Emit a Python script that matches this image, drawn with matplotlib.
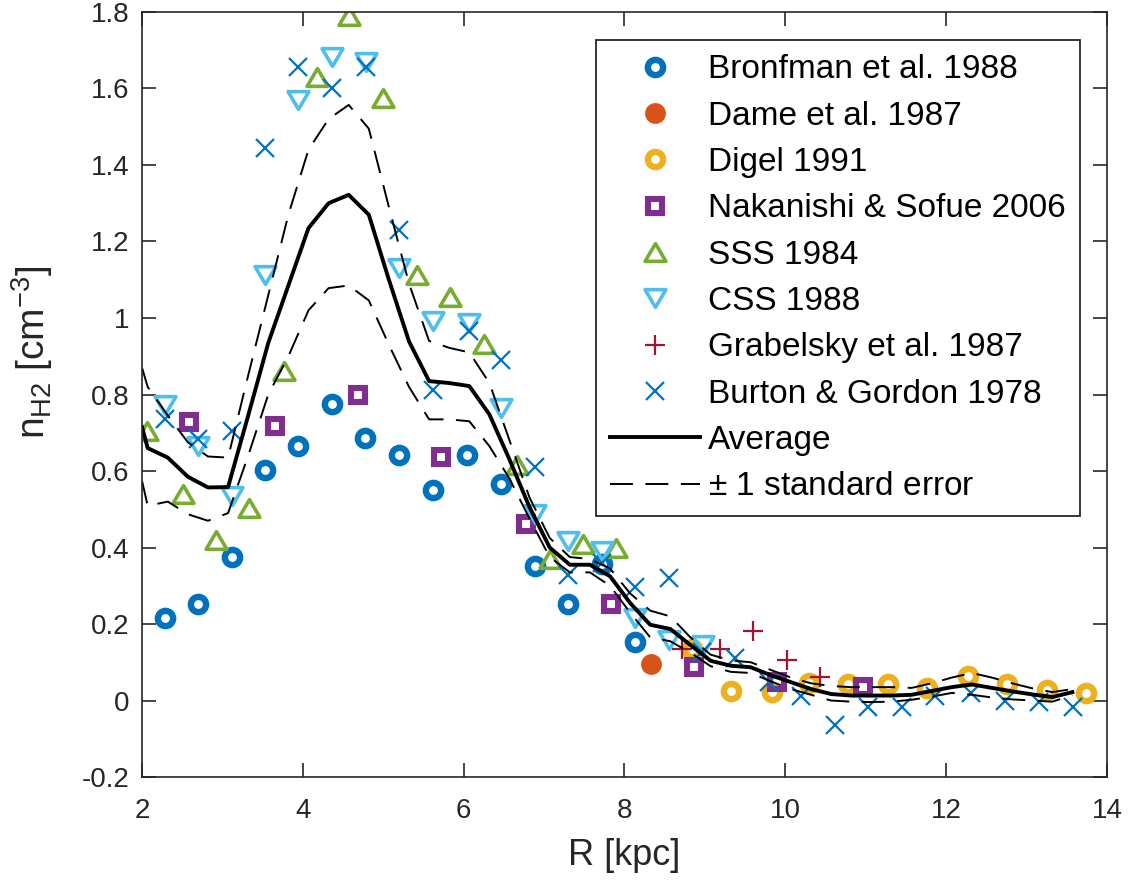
import matplotlib
matplotlib.use("Agg")
import matplotlib.pyplot as plt
from matplotlib.path import Path
import numpy as np

plt.rcParams['font.family'] = ['Liberation Sans', 'DejaVu Sans']
plt.rcParams['mathtext.fontset'] = 'custom'
plt.rcParams['mathtext.rm'] = 'Liberation Sans'
plt.rcParams['mathtext.it'] = 'Liberation Sans:italic'

# ---------------- data ----------------
bronfman_R = [2.29, 2.70, 3.12, 3.53, 3.94, 4.36, 4.77, 5.19, 5.62, 6.04, 6.47, 6.89, 7.30, 7.72, 8.13]
bronfman_n = [0.216, 0.252, 0.374, 0.602, 0.665, 0.776, 0.687, 0.642, 0.550, 0.642, 0.565, 0.352, 0.252, 0.357, 0.152]

dame_R = [8.33]
dame_n = [0.096]

digel_R = [8.84, 9.33, 9.83, 10.29, 10.78, 11.28, 11.76, 12.27, 12.76, 13.26, 13.74]
digel_n = [0.135, 0.026, 0.021, 0.045, 0.042, 0.043, 0.033, 0.063, 0.043, 0.028, 0.019]

nakanishi_R = [2.59, 3.65, 4.69, 5.72, 6.78, 7.83, 8.86, 9.90, 10.96]
nakanishi_n = [0.729, 0.717, 0.798, 0.637, 0.461, 0.252, 0.088, 0.048, 0.035]

sss_R = [2.06, 2.51, 2.92, 3.33, 3.76, 4.17, 4.58, 5.00, 5.42, 5.83, 6.25, 6.66, 7.07, 7.49, 7.90]
sss_n = [0.704, 0.539, 0.419, 0.504, 0.861, 1.631, 1.790, 1.574, 1.113, 1.054, 0.931, 0.617, 0.370, 0.409, 0.400]

css_R = [2.29, 2.70, 3.12, 3.53, 3.94, 4.36, 4.79, 5.19, 5.62, 6.06, 6.47, 6.89, 7.30, 7.72, 8.13, 8.55, 8.98]
css_n = [0.772, 0.665, 0.535, 1.113, 1.570, 1.683, 1.670, 1.130, 0.991, 0.987, 0.765, 0.487, 0.417, 0.391, 0.217, 0.157, 0.145]

grabelsky_R = [8.72, 9.19, 9.60, 10.02, 10.43]
grabelsky_n = [0.135, 0.135, 0.183, 0.105, 0.061]

burton_R = [2.29, 2.70, 3.12, 3.53, 3.94, 4.36, 4.79, 5.19, 5.62, 6.06, 6.47, 6.89, 7.30, 7.72,
            8.13, 8.55, 8.96, 9.38, 9.80, 10.20, 10.62, 11.03, 11.45, 11.86, 12.31, 12.73, 13.15, 13.58]
burton_n = [0.735, 0.683, 0.704, 1.444, 1.657, 1.600, 1.657, 1.230, 0.813, 0.965, 0.891, 0.611, 0.328, 0.360,
            0.298, 0.320, 0.128, 0.111, 0.048, 0.011, -0.063, -0.017, -0.017, 0.011, 0.019, 0.000, -0.004, -0.017]

avg_R = [2.00, 2.07, 2.32, 2.57, 2.82, 3.07, 3.32, 3.57, 3.82, 4.07, 4.32, 4.57, 4.82, 5.07, 5.32,
         5.57, 5.82, 6.07, 6.32, 6.57, 6.82, 7.07, 7.32, 7.57, 7.82, 8.07, 8.32, 8.57, 8.82, 9.07,
         9.32, 9.57, 9.82, 10.07, 10.32, 10.57, 10.82, 11.07, 11.32, 11.57, 11.82, 12.07, 12.32,
         12.57, 12.82, 13.07, 13.32, 13.57]
avg_n = [0.715, 0.660, 0.635, 0.585, 0.557, 0.558, 0.745, 0.935, 1.085, 1.235, 1.300, 1.322, 1.270, 1.100, 0.939,
         0.835, 0.830, 0.822, 0.748, 0.630, 0.505, 0.400, 0.355, 0.355, 0.325, 0.255, 0.198, 0.187, 0.145, 0.104,
         0.091, 0.087, 0.066, 0.048, 0.030, 0.017, 0.013, 0.013, 0.013, 0.015, 0.025, 0.035, 0.042,
         0.033, 0.024, 0.016, 0.009, 0.022]
upper_n = [0.870, 0.820, 0.745, 0.675, 0.638, 0.635, 0.850, 1.060, 1.270, 1.440, 1.520, 1.557, 1.495, 1.290, 1.090,
           0.940, 0.922, 0.910, 0.830, 0.680, 0.530, 0.425, 0.375, 0.370, 0.345, 0.280, 0.235, 0.220, 0.165, 0.120,
           0.105, 0.100, 0.080, 0.060, 0.045, 0.038, 0.035, 0.035, 0.035, 0.033, 0.045, 0.060, 0.072,
           0.060, 0.045, 0.032, 0.022, 0.030]
lower_n = [0.574, 0.509, 0.520, 0.487, 0.470, 0.490, 0.640, 0.800, 0.900, 1.020, 1.078, 1.085, 1.046, 0.930, 0.820,
           0.735, 0.735, 0.730, 0.665, 0.580, 0.475, 0.375, 0.335, 0.335, 0.300, 0.230, 0.165, 0.155, 0.125, 0.090,
           0.075, 0.072, 0.050, 0.030, 0.015, 0.000, -0.003, -0.004, -0.003, 0.002, 0.010, 0.020, 0.015,
           0.008, 0.003, 0.000, -0.003, 0.014]

xticks = [2, 4, 6, 8, 10, 12, 14]
yticks = [-0.2, 0, 0.2, 0.4, 0.6, 0.8, 1.0, 1.2, 1.4, 1.6, 1.8]
ytick_labels = ['-0.2', '0', '0.2', '0.4', '0.6', '0.8', '1', '1.2', '1.4', '1.6', '1.8']

# ---------------- style ----------------
C1, C2, C3, C4, C5, C6, C7 = '#0072BD', '#D95319', '#EDB120', '#7E2F8E', '#77AC30', '#4DBEEE', '#A2142F'
AX = '#262626'

tri_up = Path([(0, 0.85), (-1, -0.85), (1, -0.85), (0, 0.85)],
              [Path.MOVETO, Path.LINETO, Path.LINETO, Path.CLOSEPOLY])
tri_dn = Path([(0, -0.85), (-1, 0.85), (1, 0.85), (0, -0.85)],
              [Path.MOVETO, Path.LINETO, Path.LINETO, Path.CLOSEPOLY])

fig = plt.figure(figsize=(11.3, 8.8), dpi=100)
ax = fig.add_axes([0.1257, 0.117, 0.8539, 0.8694])

ax.plot(bronfman_R, bronfman_n, 'o', ls='none', mfc='none', mec=C1, ms=11.0, mew=4.6, label='Bronfman et al. 1988')
ax.plot(dame_R, dame_n, 'o', ls='none', mfc=C2, mec=C2, ms=12.0, mew=3.0, label='Dame et al. 1987')
ax.plot(digel_R, digel_n, 'o', ls='none', mfc='none', mec=C3, ms=11.0, mew=4.6, label='Digel 1991')
ax.plot(nakanishi_R, nakanishi_n, 's', ls='none', mfc='none', mec=C4, ms=10.0, mew=4.4, label='Nakanishi & Sofue 2006')
ax.plot(sss_R, sss_n, marker=tri_up, ls='none', mfc='none', mec=C5, ms=15, mew=2.6, label='SSS 1984')
ax.plot(css_R, css_n, marker=tri_dn, ls='none', mfc='none', mec=C6, ms=15, mew=2.6, label='CSS 1988')
ax.plot(grabelsky_R, grabelsky_n, '+', ls='none', mec=C7, ms=15, mew=1.6, label='Grabelsky et al. 1987')
ax.plot(burton_R, burton_n, 'x', ls='none', mec=C1, ms=12.5, mew=1.6, label='Burton & Gordon 1978')

ax.plot(avg_R, avg_n, '-', color='black', lw=2.8, label='Average')
dash = (16.5 / 1.4, 9.0 / 1.4)
ax.plot(avg_R, upper_n, '--', color='black', lw=1.4, dashes=dash, label=r'$\pm$ 1 standard error')
ax.plot(avg_R, lower_n, '--', color='black', lw=1.4, dashes=dash)

ax.set_xlim(2, 14)
ax.set_ylim(-0.2, 1.8)
ax.set_xticks(xticks)
ax.set_xticklabels([str(t) for t in xticks])
ax.set_yticks(yticks)
ax.set_yticklabels(ytick_labels)

ax.tick_params(direction='in', length=10, width=1.2, colors=AX, labelsize=20,
               top=True, right=True)
ax.tick_params(axis='x', pad=15)
ax.tick_params(axis='y', pad=9)
for sp in ax.spines.values():
    sp.set_color(AX)
    sp.set_linewidth(1.2)

ax.set_xlabel('R [kpc]', fontsize=26, color=AX)
ax.xaxis.set_label_coords(0.5, -0.080)
ax.set_ylabel(r'n$_\mathregular{H2}$ [cm$^\mathregular{-3}$]', fontsize=28, color=AX)
ax.yaxis.set_label_coords(-0.090, 0.556)

leg = ax.legend(loc='upper right', bbox_to_anchor=(0.972, 0.963), borderaxespad=0,
                fontsize=24, frameon=True, fancybox=False, framealpha=1,
                edgecolor=AX, handlelength=2.7, handletextpad=0.25,
                labelspacing=0.46, borderpad=0.42, numpoints=1)
leg.get_frame().set_linewidth(1.3)

fig.savefig('out.png', dpi=100)
